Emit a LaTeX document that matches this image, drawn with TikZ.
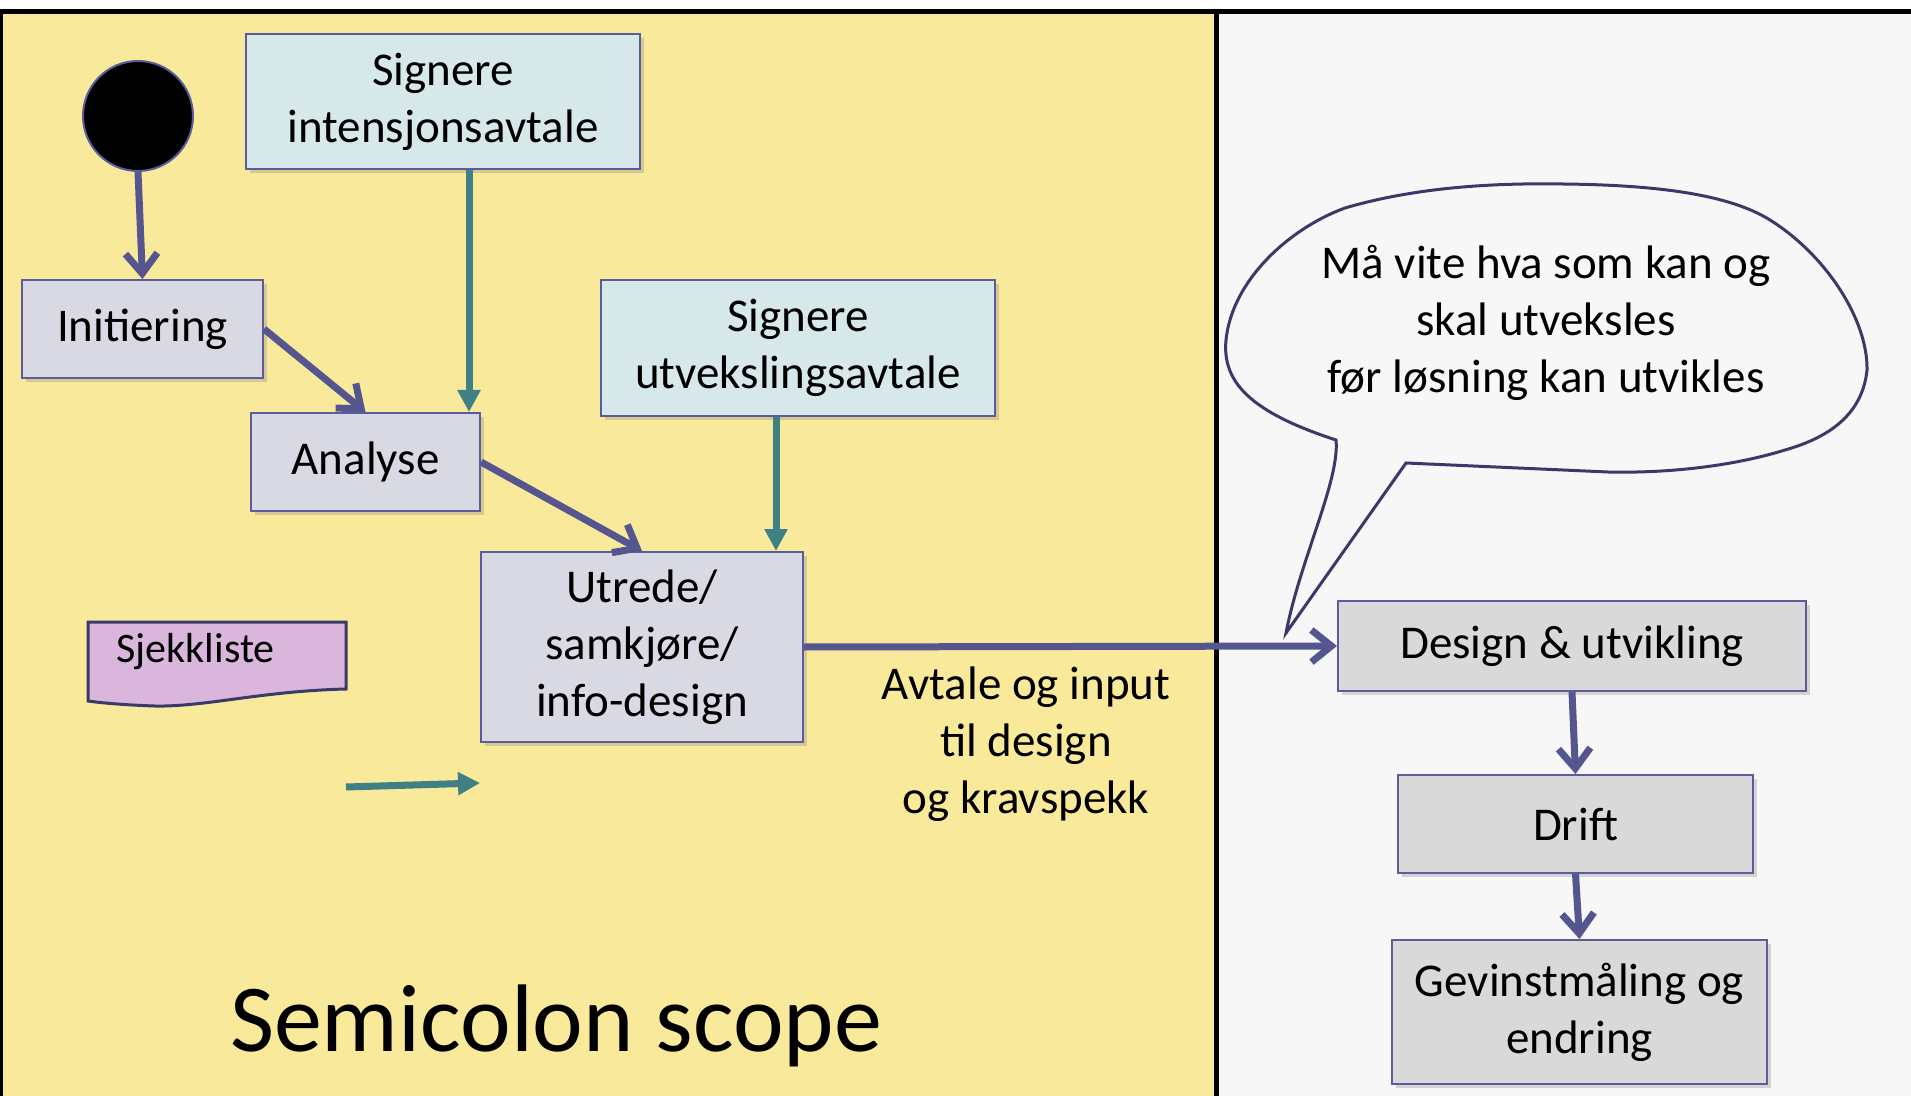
\documentclass[tikz,border=0pt]{standalone}
\usepackage{fontspec}
\setmainfont{Carlito}
\usetikzlibrary{arrows.meta,shadows,calc}
\definecolor{bgyellow}{HTML}{F9E99A}
\definecolor{bggray}{HTML}{F7F7F7}
\definecolor{lav}{HTML}{D9D9E4}
\definecolor{lblue}{HTML}{D6E8EA}
\definecolor{gbox}{HTML}{D9D9D9}
\definecolor{edgec}{HTML}{5A5C9C}
\definecolor{parrow}{HTML}{555590}
\definecolor{tarrow}{HTML}{3F8084}
\definecolor{pinkc}{HTML}{DAB5DC}
\definecolor{navy}{HTML}{3A3A6A}
\begin{document}
\begin{tikzpicture}[x=0.5pt,y=-0.5pt,
  box/.style={draw=edgec,line width=1pt,align=center,inner sep=0pt,
    font=\fontsize{23.5}{28.5}\selectfont,
    drop shadow={shadow xshift=2pt,shadow yshift=-2pt,opacity=0.3}},
  lavbox/.style={box,fill=lav},
  bluebox/.style={box,fill=lblue},
  graybox/.style={box,fill=gbox},
  parr/.style={draw=parrow,line width=3.5pt,-{Straight Barb[length=10pt,width=16pt]}},
  tarr/.style={draw=tarrow,line width=3.5pt,-{Triangle[length=11pt,width=11pt]}},
  txt/.style={align=center,font=\fontsize{23.5}{28.5}\selectfont,inner sep=0pt}]
\useasboundingbox (0,0) rectangle (1911,1096);
% backgrounds
\fill[white] (0,0) rectangle (1911,1096);
\fill[bgyellow] (0,11) rectangle (1217,1096);
\fill[bggray] (1217,11) rectangle (1911,1096);
\fill[black] (0,9) rectangle (1911,14);
\fill[black] (0,9) rectangle (3,1096);
\fill[black] (1214,9) rectangle (1219,1096);

% nodes
\node[circle,fill=black,draw=edgec,line width=1pt,minimum size=55pt,inner sep=0pt] (start) at (138,116) {};
\node[bluebox,minimum width=197pt,minimum height=67.5pt] (intens) at (443,101.5) {Signere\\intensjonsavtale};
\node[lavbox,minimum width=120.5pt,minimum height=49pt] (init) at (142.5,329) {Initiering};
\node[lavbox,minimum width=114.5pt,minimum height=49pt] (analyse) at (365.5,462) {Analyse};
\node[bluebox,minimum width=197pt,minimum height=68pt] (utveks) at (798,348) {Signere\\utvekslingsavtale};
\node[lavbox,minimum width=161pt,minimum height=95pt] (utrede) at (642,647) {Utrede/\\samkjøre/\\info-design};
\node[graybox,minimum width=234pt,minimum height=45pt] (design) at (1572,646) {Design \& utvikling};
\node[graybox,minimum width=177.5pt,minimum height=49pt] (drift) at (1575.5,824) {Drift};
\node[graybox,minimum width=187.5pt,minimum height=72pt] (gev) at (1579.5,1012) {Gevinstmåling og\\endring};

% checklist (document shape)
\filldraw[fill=pinkc,draw=navy,line width=1.5pt]
  (88,622) -- (346,622) -- (346,689)
  .. controls (262,691) and (205,707) .. (155,706)
  .. controls (125,705) and (102,703) .. (88,701) -- cycle;
\node[anchor=west,inner sep=0pt,font=\fontsize{21}{25}\selectfont] (sjekk) at (116,652) {Sjekkliste};

% legend arrow
\coordinate (la) at (346,787);
\coordinate (lb) at (480,783);
\draw[tarr] (la) -- (lb);

% speech bubble
\draw[navy,line width=1.5pt,fill=bggray]
  (1336,440) .. controls (1250,412) and (1222,382) .. (1226,340)
  .. controls (1232,280) and (1290,228) .. (1345,208)
  .. controls (1420,186) and (1500,183) .. (1563,184)
  .. controls (1660,185) and (1730,195) .. (1770,220)
  .. controls (1826,255) and (1868,320) .. (1867,370)
  .. controls (1862,420) and (1820,440) .. (1785,450)
  .. controls (1720,470) and (1650,473) .. (1608,472)
  -- (1406,463) -- (1286,633)
  .. controls (1300,560) and (1340,480) .. (1336,440) -- cycle;
\node[txt] (bubble) at (1546,323) {Må vite hva som kan og\\skal utveksles\\før løsning kan utvikles};

% label
\node[txt] (avtale) at (1026,744) {Avtale og input\\til design\\og kravspekk};

% title
\node[anchor=base,inner sep=0pt,font=\fontsize{48}{56}\selectfont] (title) at (556,1051) {Semicolon scope};

% connectors
\draw[parr] (start.south) -- (init.north);
\draw[parr] (init.east) -- (analyse.north);
\draw[tarr] ([xshift=13pt]intens.south) -- ([xshift=13pt]intens.south |- analyse.north);
\draw[parr] (analyse.east) -- (utrede.north);
\draw[tarr] ([xshift=-11pt]utveks.south) -- ([xshift=-11pt]utveks.south |- utrede.north);
\draw[parr] (utrede.east) -- (design.west);
\draw[parr] (design.south) -- (drift.north);
\draw[parr] (drift.south) -- (gev.north);
\end{tikzpicture}
\end{document}
